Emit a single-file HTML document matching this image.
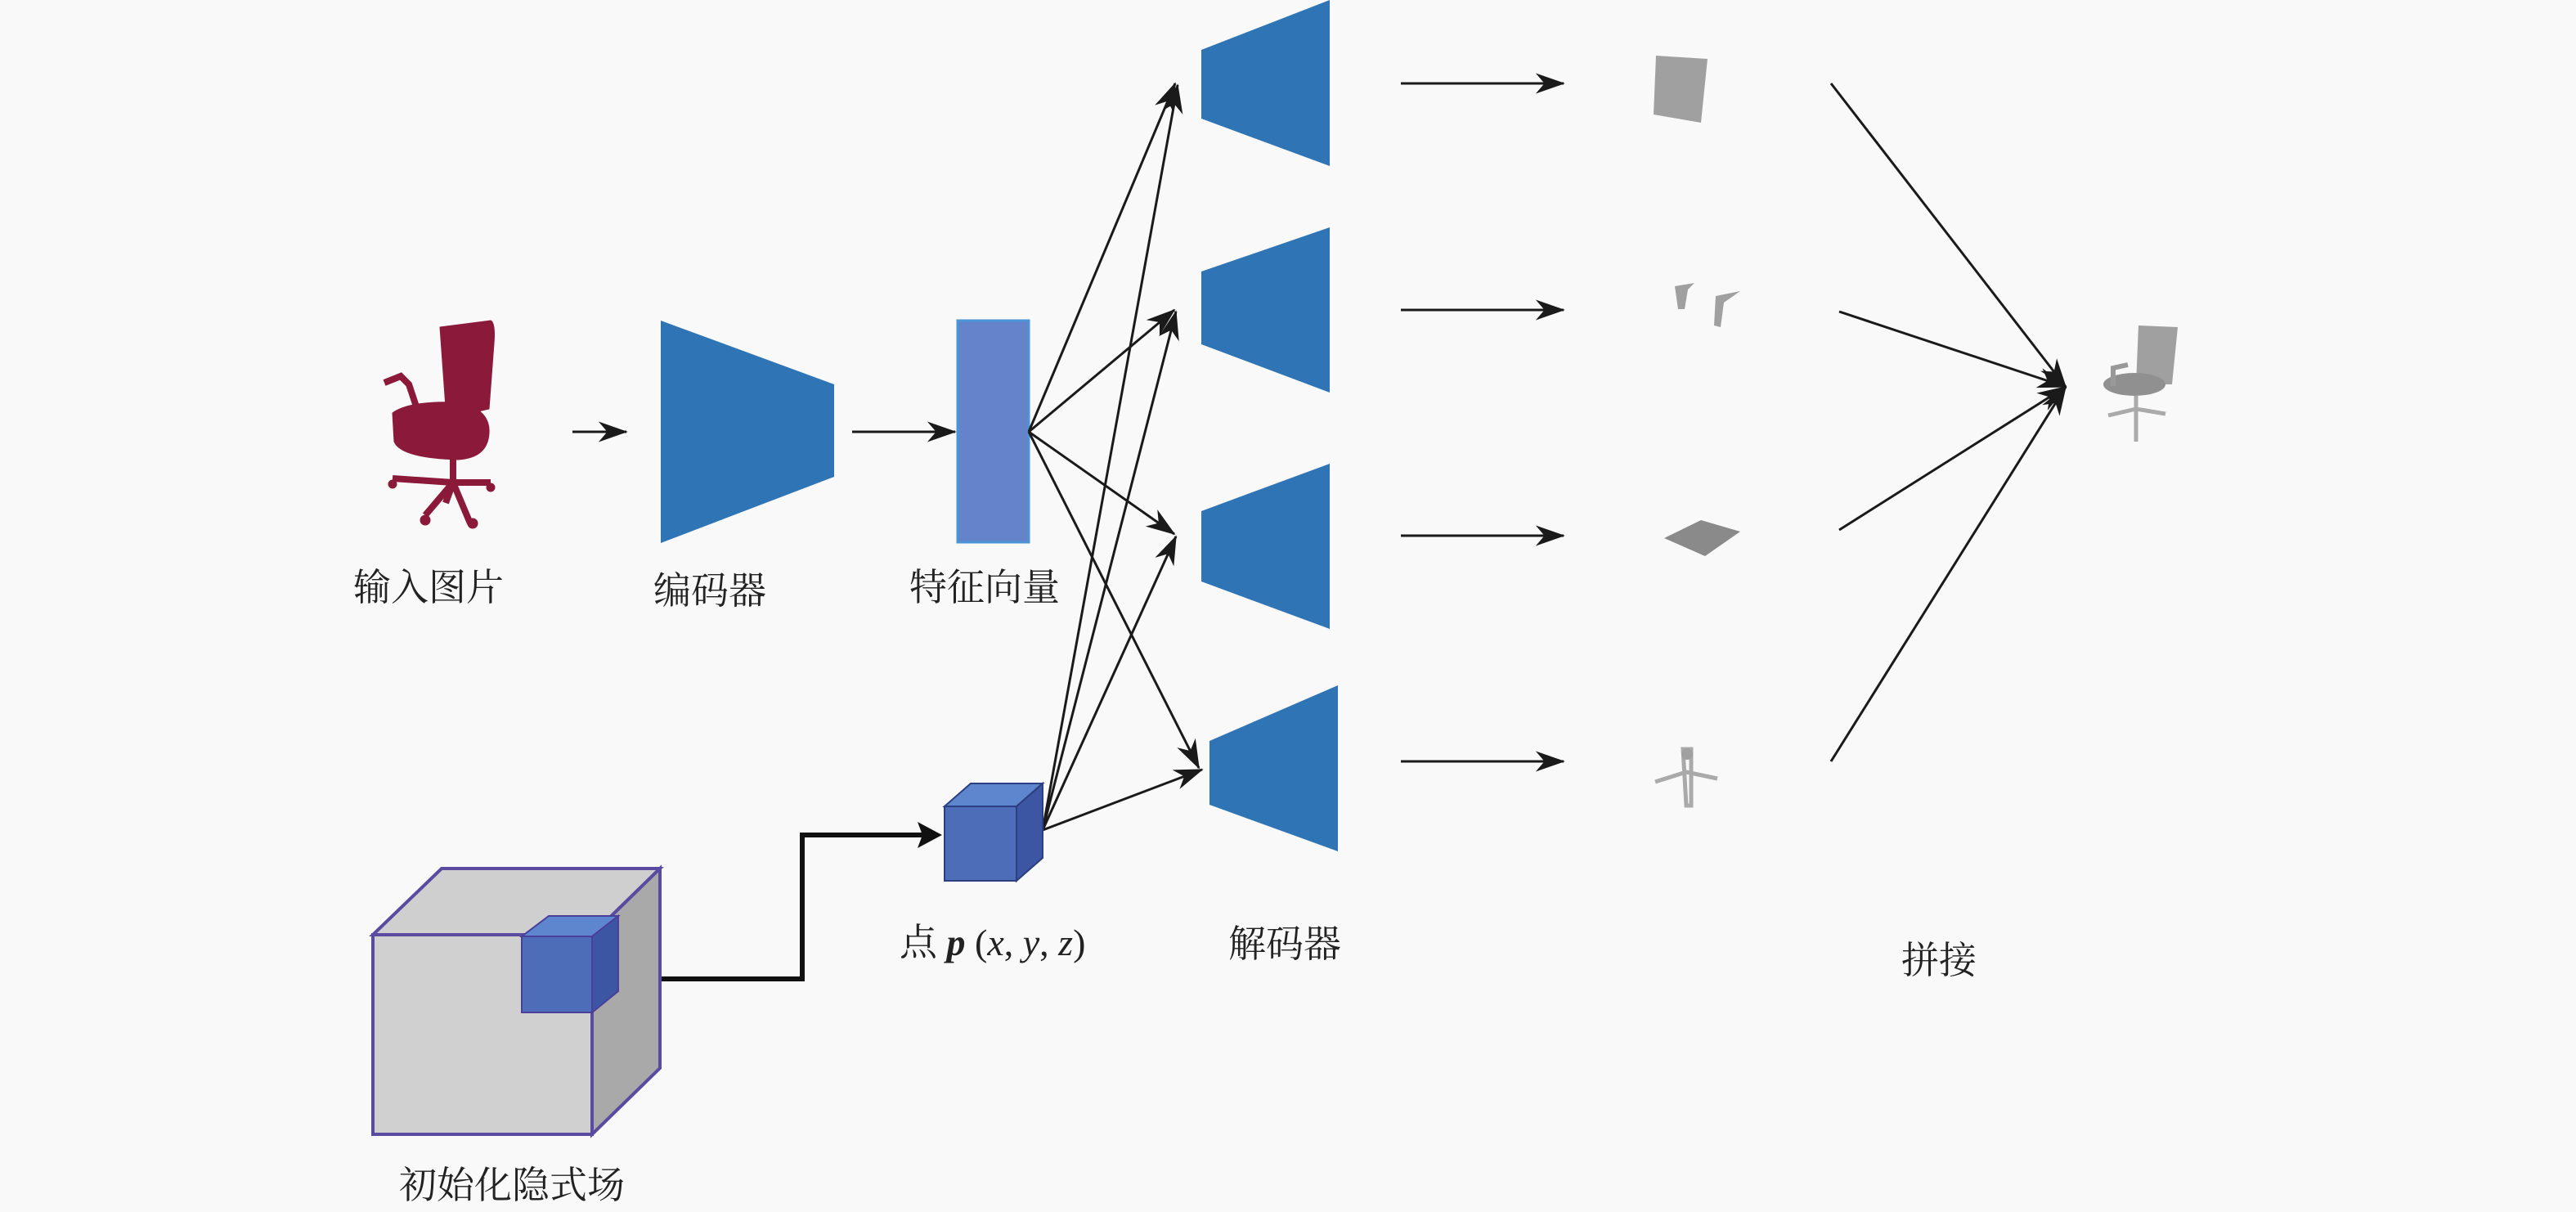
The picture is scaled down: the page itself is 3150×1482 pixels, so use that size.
<!DOCTYPE html>
<html><head><meta charset="utf-8"><style>
html,body{margin:0;padding:0;background:#f9f9f9;}
svg{display:block}
text{font-family:"Liberation Serif","Noto Serif CJK SC","Noto Sans CJK SC",serif;fill:#222}
</style></head><body>
<svg width="3150" height="1482" viewBox="0 0 3150 1482" xmlns="http://www.w3.org/2000/svg">
<defs>
<marker id="ah" viewBox="0 0 10 10" refX="9" refY="5" markerWidth="8" markerHeight="8" orient="auto" markerUnits="userSpaceOnUse">
</marker>
<marker id="a" viewBox="0 0 20 14" refX="19" refY="7" markerWidth="36" markerHeight="26" orient="auto" markerUnits="userSpaceOnUse"><path d="M0,0 L20,7 L0,14 L6,7 Z" fill="#1a1a1a"/></marker>
</defs>
<rect width="3150" height="1482" fill="#f9f9f9"/>

<!-- red chair -->
<g fill="#8b1a3a" stroke="#8b1a3a">
<path d="M538,400 L600,392 Q606,395 604,420 L598,500 L546,512 Z"/>
<path d="M480,505 Q500,490 560,492 Q600,500 598,530 Q596,560 560,562 Q490,560 482,540 Z"/>
<path d="M470,468 L490,460 L500,470 L510,500" fill="none" stroke-width="8"/>
<path d="M554,560 L554,590 M554,590 L480,585 M554,590 L600,590 M554,590 L520,630 M554,590 L575,640 M554,590 L545,615" fill="none" stroke-width="8"/>
<circle cx="480" cy="592" r="5"/><circle cx="600" cy="596" r="5"/><circle cx="520" cy="636" r="6"/><circle cx="578" cy="640" r="6"/>
</g>

<!-- encoder -->
<polygon points="808,392 1020,470 1020,583 808,664" fill="#2f75b6"/>
<!-- feature vector -->
<rect x="1171" y="392" width="87" height="271" fill="#6483cb" stroke="#4b95d6" stroke-width="3"/>

<!-- decoders -->
<polygon points="1469,61 1626,0 1626,203 1469,145" fill="#2f75b6"/>
<polygon points="1469,332 1626,278 1626,480 1469,421" fill="#2f75b6"/>
<polygon points="1469,625 1626,567 1626,769 1469,711" fill="#2f75b6"/>
<polygon points="1479,906 1636,838 1636,1041 1479,984" fill="#2f75b6"/>

<g stroke="#1a1a1a" stroke-width="3" fill="none" marker-end="url(#a)">
<line x1="700" y1="528" x2="766" y2="528"/>
<line x1="1042" y1="528" x2="1168" y2="528"/>
<line x1="1258" y1="528" x2="1437" y2="102"/>
<line x1="1258" y1="528" x2="1436" y2="379"/>
<line x1="1258" y1="528" x2="1436" y2="653"/>
<line x1="1258" y1="528" x2="1466" y2="939"/>
<line x1="1275" y1="1015" x2="1440" y2="104"/>
<line x1="1275" y1="1015" x2="1438" y2="381"/>
<line x1="1275" y1="1015" x2="1438" y2="656"/>
<line x1="1275" y1="1015" x2="1470" y2="941"/>
<line x1="1713" y1="102" x2="1912" y2="102"/>
<line x1="1713" y1="379" x2="1912" y2="379"/>
<line x1="1713" y1="655" x2="1912" y2="655"/>
<line x1="1713" y1="931" x2="1912" y2="931"/>
<line x1="2239" y1="102" x2="2526" y2="473"/>
<line x1="2249" y1="381" x2="2526" y2="473"/>
<line x1="2249" y1="648" x2="2526" y2="473"/>
<line x1="2239" y1="931" x2="2526" y2="473"/>
</g>
<polyline points="807,1197 981,1197 981,1021 1130,1021" fill="none" stroke="#111" stroke-width="6"/>
<path d="M1152,1021 L1122,1005 L1128,1021 L1122,1037 Z" fill="#111"/>

<!-- big cube -->
<g stroke="#5a4aa0" stroke-width="4">
<polygon points="456,1143 540,1062 807,1062 724,1143" fill="#cfcfcf"/>
<polygon points="724,1143 807,1062 807,1306 724,1387" fill="#a9a9a9"/>
<rect x="456" y="1143" width="268" height="244" fill="#d0d0d0"/>
</g>
<g stroke="#4a3f9a" stroke-width="2">
<polygon points="638,1145 671,1120 756,1120 724,1145" fill="#5e86cf"/>
<polygon points="724,1145 756,1120 756,1212 724,1238" fill="#3c56a3"/>
<rect x="638" y="1145" width="86" height="93" fill="#4e6db8"/>
</g>
<!-- point cube -->
<g stroke="#2c3f80" stroke-width="2">
<polygon points="1155,986 1187,958 1275,958 1243,986" fill="#5e86cf"/>
<polygon points="1243,986 1275,958 1275,1049 1243,1077" fill="#3c56a3"/>
<rect x="1155" y="986" width="88" height="91" fill="#4e6db8"/>
</g>

<!-- parts -->
<g fill="#a0a0a0">
<polygon points="2025,68 2088,72 2080,150 2022,140"/>
<path d="M2048,350 L2072,346 L2064,354 L2060,378 L2052,378 Z"/>
<path d="M2098,362 L2128,356 L2108,370 L2104,400 L2096,398 Z"/>
<polygon points="2035,658 2080,636 2128,650 2085,680" fill="#8a8a8a"/>
<path d="M2058,916 L2068,916 L2068,985 L2062,985 Z M2024,956 L2062,944 L2100,952" stroke="#aaa" stroke-width="5" fill="none"/>
<circle cx="2063" cy="922" r="7"/>
<polygon points="2615,398 2663,400 2656,470 2612,470"/>
<ellipse cx="2610" cy="470" rx="38" ry="14" fill="#909090"/>
<path d="M2584,472 L2584,450 L2602,446" stroke="#999" stroke-width="6" fill="none"/>
<path d="M2612,484 L2612,540 M2578,508 L2612,500 L2648,506" stroke="#aaa" stroke-width="5" fill="none"/>
</g>

<!-- labels -->
<g font-size="46">
<text x="524" y="734" text-anchor="middle">输入图片</text>
<text x="868" y="738" text-anchor="middle">编码器</text>
<text x="1204" y="734" text-anchor="middle">特征向量</text>
<text x="1571" y="1170" text-anchor="middle">解码器</text>
<text x="2371" y="1190" text-anchor="middle">拼接</text>
<text x="626" y="1465" text-anchor="middle">初始化隐式场</text>
<text x="1100" y="1168">点 <tspan font-weight="bold" font-style="italic">p</tspan> (<tspan font-style="italic">x</tspan>, <tspan font-style="italic">y</tspan>, <tspan font-style="italic">z</tspan>)</text>
</g>
</svg>
</body></html>
